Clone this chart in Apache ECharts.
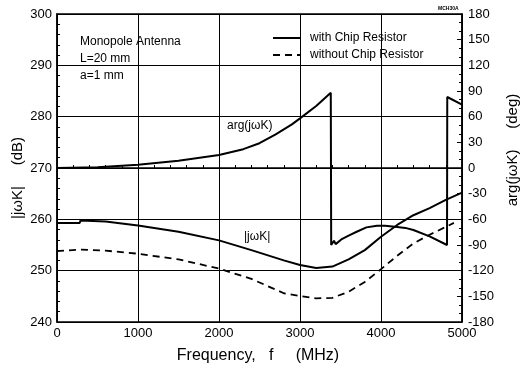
<!DOCTYPE html>
<html>
<head>
<meta charset="utf-8">
<script src="https://cdn.jsdelivr.net/npm/echarts@6/dist/echarts.min.js"></script>
<style>
  html, body { margin: 0; padding: 0; background: #fff; }
  #chart { width: 525px; height: 374px; }
</style>
</head>
<body>
<div id="chart"></div>
<script>
// |jwK| with chip resistor (dB)
var freqWith = [0, 280, 290, 600, 1000, 1500, 2000, 2400, 2800, 3000, 3200, 3400, 3600, 3800, 4000, 4200, 4400, 4600, 4800, 5000];
var magWith = [259.3, 259.3, 259.75, 259.6, 258.8, 257.6, 255.9, 254.0, 252.0, 251.1, 250.5, 250.8, 252.2, 254.0, 256.6, 258.9, 260.8, 262.2, 263.8, 265.2];

// |jwK| without chip resistor (dB)
var freqWithout = [0, 300, 600, 1000, 1500, 2000, 2400, 2800, 3000, 3200, 3400, 3600, 3800, 4000, 4200, 4400, 4600, 4900];
var magWithout = [253.8, 254.1, 253.9, 253.3, 252.2, 250.4, 248.4, 245.6, 245.05, 244.6, 244.7, 245.9, 247.8, 250.3, 252.9, 255.3, 257.0, 259.3];

// arg(jwK) with chip resistor (deg)
var freqPhase = [0, 500, 1000, 1500, 2000, 2300, 2500, 2700, 2900, 3000, 3200, 3380, 3385, 3420, 3440, 3510, 3600, 3700, 3820, 3950, 4050, 4200, 4300, 4400, 4600, 4815, 4818, 5000];
var phaseWith = [0, 1, 3.9, 8.5, 15.2, 22, 29, 39.3, 51, 58, 72.5, 88, -90, -85, -89, -83.5, -79, -74.5, -69.4, -67.5, -67.5, -69, -70, -72.5, -80, -90, 83, 74];

var freqTicks = [0, 1000, 2000, 3000, 4000, 5000];

function pairs(xs, ys) {
  return xs.map(function (x, i) { return [x, ys[i]]; });
}

var font = 'Liberation Sans';
var chart = echarts.init(document.getElementById('chart'));
chart.setOption({
  animation: false,
  textStyle: { fontFamily: font, color: '#000' },
  grid: {
    left: 57, right: 63, top: 14, bottom: 52,
    show: true, borderColor: '#000', borderWidth: 1.5
  },
  legend: {
    data: ['with Chip Resistor', 'without Chip Resistor'],
    orient: 'vertical',
    left: 272,
    top: 32,
    padding: 0,
    itemWidth: 28,
    itemHeight: 10,
    itemGap: 5,
    itemStyle: { opacity: 0 },
    textStyle: { fontFamily: font, fontSize: 12, color: '#000', padding: [0, 0, 0, 4] }
  },
  xAxis: {
    type: 'value',
    min: 0, max: 5000, interval: 1000,
    axisLine: { lineStyle: { color: '#000', width: 1.5 } },
    axisTick: { inside: true, length: 5, lineStyle: { color: '#000' } },
    minorTick: { show: true, splitNumber: 5, length: 3, lineStyle: { color: '#000' } },
    splitLine: { show: true, lineStyle: { color: '#000', width: 1 } },
    axisLabel: {
      fontSize: 13, color: '#000', margin: 5,
      formatter: function (v) { return freqTicks.indexOf(v) >= 0 ? String(v) : ''; }
    }
  },
  yAxis: [
    {
      type: 'value',
      min: 240, max: 300, interval: 10,
      axisLine: { show: true, lineStyle: { color: '#000', width: 1.5 } },
      axisTick: { show: true, inside: true, length: 5, lineStyle: { color: '#000' } },
      minorTick: { show: true, splitNumber: 5, length: 3, lineStyle: { color: '#000' } },
      splitLine: { show: true, lineStyle: { color: '#000', width: 1 } },
      axisLabel: { fontSize: 13, color: '#000', margin: 5 }
    },
    {
      type: 'value',
      position: 'right',
      min: -180, max: 180, interval: 30,
      axisLine: { show: true, lineStyle: { color: '#000', width: 1.5 } },
      axisTick: { show: true, inside: true, length: 5, lineStyle: { color: '#000' } },
      minorTick: { show: true, splitNumber: 3, length: 3, lineStyle: { color: '#000' } },
      splitLine: { show: false },
      axisLabel: { fontSize: 13, color: '#000', margin: 6 }
    }
  ],
  graphic: [
    { type: 'text', left: 80, top: 36, style: { text: 'Monopole Antenna', font: '12px ' + font, fill: '#000' } },
    { type: 'text', left: 80, top: 53, style: { text: 'L=20 mm', font: '12px ' + font, fill: '#000' } },
    { type: 'text', left: 80, top: 70, style: { text: 'a=1 mm', font: '12px ' + font, fill: '#000' } },
    { type: 'text', left: 227, top: 120, style: { text: 'arg(jωK)', font: '12px ' + font, fill: '#000' } },
    { type: 'text', left: 244, top: 231, style: { text: '|jωK|', font: '12px ' + font, fill: '#000' } },
    { type: 'text', left: 438, top: 6, style: { text: 'MCH30A', font: 'bold 5px ' + font, fill: '#000' } },
    {
      type: 'text', x: 18, y: 178, rotation: Math.PI / 2,
      style: { text: '|jωK|     (dB)', font: '15px ' + font, fill: '#000', align: 'center', verticalAlign: 'middle' }
    },
    {
      type: 'text', x: 513, y: 150, rotation: Math.PI / 2,
      style: { text: 'arg(jωK)     (deg)', font: '15px ' + font, fill: '#000', align: 'center', verticalAlign: 'middle' }
    },
    {
      type: 'text', x: 258, y: 356,
      style: { text: 'Frequency,   f     (MHz)', font: '16px ' + font, fill: '#000', align: 'center', verticalAlign: 'middle' }
    }
  ],
  series: [
    {
      name: 'with Chip Resistor',
      type: 'line',
      yAxisIndex: 0,
      showSymbol: false,
      symbol: 'none',
      lineStyle: { color: '#000', width: 2 },
      itemStyle: { color: '#000' },
      data: pairs(freqWith, magWith)
    },
    {
      name: 'without Chip Resistor',
      type: 'line',
      yAxisIndex: 0,
      showSymbol: false,
      symbol: 'none',
      lineStyle: { color: '#000', width: 1.8, type: [7, 5] },
      itemStyle: { color: '#000' },
      data: pairs(freqWithout, magWithout)
    },
    {
      name: 'arg',
      type: 'line',
      yAxisIndex: 1,
      showSymbol: false,
      symbol: 'none',
      lineStyle: { color: '#000', width: 2 },
      itemStyle: { color: '#000' },
      data: pairs(freqPhase, phaseWith)
    }
  ]
});
</script>
</body>
</html>
